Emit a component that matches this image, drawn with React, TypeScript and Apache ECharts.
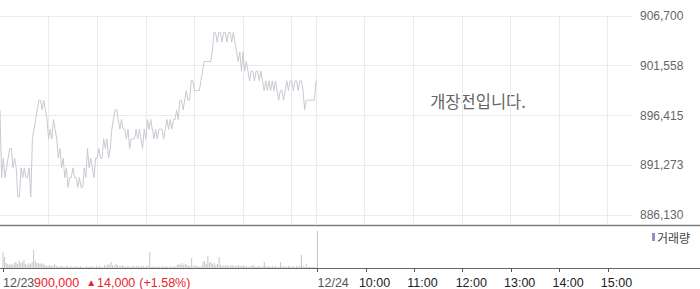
import React, { useEffect, useRef } from 'react';
import * as echarts from 'echarts';

// ---- data ----
const DATE_LABELS = ['12/23', '12/24'];
const TIME_LABELS = ['10:00', '11:00', '12:00', '13:00', '14:00', '15:00'];
const SESSION_MINUTES = 390; // 09:00 - 15:30
const STEP_MIN = 2; // one sample every 2 minutes
const PRICE_TICKS = [886130, 891272.5, 896415, 901557.5, 906700];

// price in thousands of won, 12/23 session, one value every 2 minutes
const PRICES_K = [
  897, 890, 892, 890, 891, 892, 893, 893, 891, 892,
  891, 888, 888, 891, 890, 891, 890, 890, 891, 888,
  894, 895, 896, 897, 898, 898, 897, 898, 897, 896,
  894, 895, 894, 896, 895, 894, 892, 893, 891, 892,
  890, 891, 889, 890, 890, 891, 890, 890, 889, 890,
  889, 889, 891, 890, 893, 891, 892, 891, 890, 892,
  892, 893, 892, 892, 894, 893, 894, 892, 893, 895,
  896, 897, 897, 896, 895, 896, 895, 895, 894, 895,
  893, 894, 894, 894, 895, 894, 895, 894, 893, 895,
  894, 896, 895, 896, 895, 894, 895, 894, 895, 895,
  895, 894, 895, 896, 895, 896, 895, 896, 896, 897,
  896, 898, 898, 897, 898, 899, 898, 898, 900, 900,
  899, 899, 899, 899, 900, 901, 902, 902, 902, 902,
  902, 903, 905, 905, 904, 905, 905, 904, 905, 905,
  904, 905, 905, 904, 905, 904, 903, 902, 903, 901,
  903, 901, 902, 901, 900, 901, 901, 900, 901, 901,
  900, 901, 900, 899, 900, 899, 900, 899, 900, 899,
  900, 899, 898, 899, 899, 898, 899, 900, 899, 900,
  900, 899, 900, 900, 899, 900, 900, 899, 897, 898,
  898, 898, 898, 898, 898, 900,
];

// volume in hundreds of shares, same sampling
const VOLUMES = [
  16, 11, 5, 4, 3, 4, 3, 5, 6, 4,
  7, 5, 6, 8, 4, 3, 5, 4, 6, 18,
  7, 5, 5, 4, 5, 4, 3, 2, 2, 3,
  2, 2, 4, 2, 2, 1, 2, 2, 1, 2,
  2, 1, 2, 1, 1, 2, 1, 1, 2, 1,
  1, 1, 2, 1, 1, 2, 1, 1, 2, 1,
  2, 1, 1, 3, 2, 4, 3, 6, 3, 2,
  4, 3, 2, 2, 3, 2, 1, 2, 2, 1,
  2, 2, 1, 2, 2, 1, 2, 2, 1, 2,
  2, 16, 1, 2, 1, 1, 2, 1, 1, 2,
  1, 2, 1, 1, 2, 1, 2, 1, 3, 4,
  3, 5, 3, 4, 3, 2, 2, 10, 2, 3,
  2, 2, 1, 2, 6, 7, 4, 12, 5, 6,
  4, 5, 3, 4, 11, 3, 2, 3, 2, 3,
  2, 2, 3, 2, 2, 2, 3, 2, 2, 3,
  2, 2, 1, 2, 2, 3, 2, 1, 2, 2,
  1, 2, 6, 2, 1, 2, 1, 2, 1, 2,
  1, 1, 6, 2, 1, 2, 1, 2, 2, 1,
  2, 1, 2, 1, 2, 13, 2, 1, 4, 1,
  1, 1, 1, 1, 1, 37,
];

const CLOSE = 900000;
const CHANGE = 14000;
const CHANGE_PCT = 1.58;
const NOTICE = '개장전입니다.';
const VOLUME_NAME = '거래량';

const NUM_FONT = '"Liberation Sans", Arial, sans-serif';
const KR_FONT = '"Noto Sans CJK KR", sans-serif';

export default function App() {
  const ref = useRef<HTMLDivElement>(null);

  useEffect(() => {
    if (!ref.current) return;
    const chart = echarts.init(ref.current, null, { renderer: 'svg' });

    const totalMin = SESSION_MINUTES * DATE_LABELS.length;
    const plotW = 632;
    const priceTop = 16;
    const lastTickY = 215;
    const priceBottom = 225;
    const volTop = 226;
    const volBottom = 268;

    const pMax = PRICE_TICKS[PRICE_TICKS.length - 1];
    const pMinTick = PRICE_TICKS[0];
    const yMin = pMax - ((pMax - pMinTick) * (priceBottom - priceTop)) / (lastTickY - priceTop);

    const priceData = PRICES_K.map((p, i) => [i * STEP_MIN, p * 1000]);
    const volData = VOLUMES.map((v, i) => [i * STEP_MIN, v * 100]);

    const dateValues = DATE_LABELS.map((_, i) => i * SESSION_MINUTES);
    const timeValues = TIME_LABELS.map((_, i) => SESSION_MINUTES + 60 * (i + 1));
    const gridXValues: number[] = [];
    for (let d = 0; d < DATE_LABELS.length; d++) {
      if (d > 0) gridXValues.push(d * SESSION_MINUTES);
      for (let h = 1; h <= 6; h++) gridXValues.push(d * SESSION_MINUTES + 60 * h);
    }

    const fmtNum = (v: number) => Math.round(v).toLocaleString('en-US');

    chart.setOption({
      animation: false,
      backgroundColor: '#ffffff',
      grid: [
        { left: 0, top: priceTop, width: plotW, height: priceBottom - priceTop, containLabel: false },
        { left: 0, top: volTop, width: plotW, height: volBottom - volTop, containLabel: false },
      ],
      legend: {
        left: 652,
        top: 231,
        padding: 0,
        itemWidth: 3,
        itemHeight: 8,
        icon: 'rect',
        data: [{ name: VOLUME_NAME, itemStyle: { color: '#9a8bcc' } }],
        textStyle: { color: '#444', fontSize: 12, fontFamily: KR_FONT, padding: [0, 0, 0, -3] },
      },
      xAxis: [
        {
          type: 'value',
          gridIndex: 0,
          min: 0,
          max: totalMin,
          axisLine: { show: false },
          axisLabel: { show: false },
          axisTick: { show: false, customValues: gridXValues },
          splitLine: { show: true, lineStyle: { color: '#ebebeb', width: 1 } },
        },
        {
          type: 'value',
          gridIndex: 1,
          position: 'bottom',
          min: 0,
          max: totalMin,
          axisLine: { show: false },
          splitLine: { show: false },
          axisTick: { show: true, length: 4, customValues: dateValues, lineStyle: { color: '#555' } },
          axisLabel: {
            customValues: dateValues,
            formatter: (v: number) => DATE_LABELS[Math.round(v / SESSION_MINUTES)] ?? '',
            align: 'left',
            margin: 8,
            color: '#555',
            fontSize: 12.5,
            fontFamily: NUM_FONT,
          },
        },
        {
          type: 'value',
          gridIndex: 1,
          position: 'bottom',
          min: 0,
          max: totalMin,
          axisLine: { show: false },
          splitLine: { show: false },
          axisTick: { show: true, length: 4, customValues: timeValues, lineStyle: { color: '#555' } },
          axisLabel: {
            customValues: timeValues,
            formatter: (v: number) => TIME_LABELS[Math.round((v - SESSION_MINUTES) / 60) - 1] ?? '',
            align: 'left',
            margin: 8,
            padding: [0, 0, 0, -7],
            color: '#222',
            fontSize: 12.5,
            fontFamily: NUM_FONT,
          },
        },
      ],
      yAxis: [
        {
          type: 'value',
          gridIndex: 0,
          position: 'right',
          min: yMin,
          max: pMax,
          axisLine: { show: false },
          axisTick: { show: false, customValues: PRICE_TICKS },
          axisLabel: {
            customValues: PRICE_TICKS,
            formatter: (v: number) => fmtNum(v),
            margin: 8,
            color: '#666',
            fontSize: 12,
            fontFamily: NUM_FONT,
          },
          splitLine: { show: true, lineStyle: { color: '#ebebeb', width: 1 } },
        },
        {
          type: 'value',
          gridIndex: 1,
          min: 0,
          max: 4200,
          show: false,
          splitLine: { show: false },
        },
      ],
      series: [
        {
          type: 'line',
          name: 'price',
          xAxisIndex: 0,
          yAxisIndex: 0,
          data: priceData,
          showSymbol: false,
          silent: true,
          lineStyle: { color: '#c6cad1', width: 1 },
        },
        {
          type: 'bar',
          name: VOLUME_NAME,
          xAxisIndex: 1,
          yAxisIndex: 1,
          data: volData,
          barWidth: 1,
          silent: true,
          itemStyle: { color: '#c5c5c5' },
        },
      ],
      graphic: [
        {
          type: 'line',
          silent: true,
          shape: { x1: 0, y1: priceBottom + 0.5, x2: 700, y2: priceBottom + 0.5 },
          style: { stroke: '#7d7d7d', lineWidth: 1.3 },
        },
        {
          type: 'line',
          silent: true,
          shape: { x1: 0, y1: volBottom + 0.5, x2: 700, y2: volBottom + 0.5 },
          style: { stroke: '#666', lineWidth: 1 },
        },
        {
          type: 'text',
          silent: true,
          style: {
            x: 478,
            y: 101,
            text: NOTICE,
            align: 'center',
            verticalAlign: 'middle',
            textAlign: 'center',
            textVerticalAlign: 'middle',
            fill: '#666',
            font: `16.5px ${KR_FONT}`,
          },
        },
        {
          type: 'text',
          silent: true,
          left: 34,
          top: volBottom + 8,
          style: {
            text: `{v|${fmtNum(CLOSE)}}{a|▲}{v|${fmtNum(CHANGE)}}{p|(+${CHANGE_PCT.toFixed(2)}%)}`,
            rich: {
              v: { fill: '#e8232a', color: '#e8232a', fontSize: 12.5, fontFamily: NUM_FONT },
              a: { fill: '#e8232a', color: '#e8232a', fontSize: 10, fontFamily: NUM_FONT, padding: [0, 1, 0, 7] },
              p: { fill: '#e8232a', color: '#e8232a', fontSize: 12.5, fontFamily: NUM_FONT, padding: [0, 0, 0, 4] },
            },
            fill: '#e8232a',
            font: `12.5px ${NUM_FONT}`,
          },
        },
      ],
    });

    return () => chart.dispose();
  }, []);

  return (
    <div
      ref={ref}
      style={{ position: 'fixed', left: 0, top: 0, width: 700, height: 289, background: '#fff' }}
    />
  );
}
